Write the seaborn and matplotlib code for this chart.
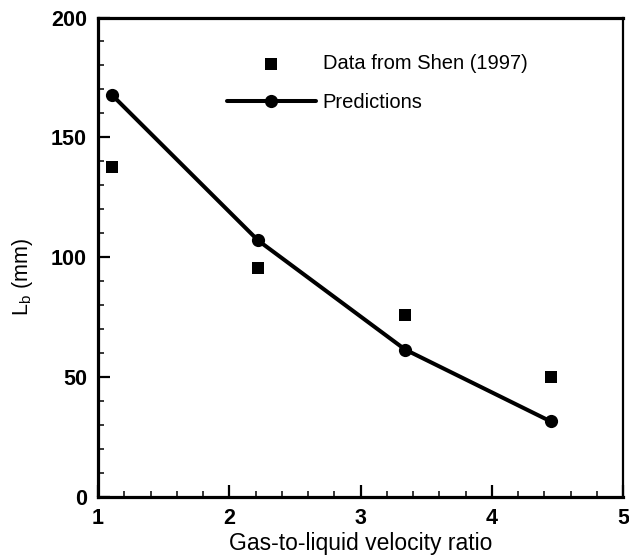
import numpy as np
import pandas as pd
import seaborn as sns
import matplotlib.pyplot as plt
from matplotlib.ticker import MultipleLocator

# donnees
ratio_mesure = [1.11, 2.22, 3.34, 4.45]
lb_mesure = [137.5, 95.5, 76.0, 50.0]
ratio_pred = [1.11, 2.22, 3.34, 4.45]
lb_pred = [167.5, 107.0, 61.5, 31.5]

df_mesure = pd.DataFrame({'ratio': ratio_mesure, 'Lb': lb_mesure})
df_pred = pd.DataFrame({'ratio': ratio_pred, 'Lb': lb_pred})

sns.set_style('ticks')
plt.rcParams['font.family'] = ['Liberation Sans', 'DejaVu Sans']
plt.rcParams['mathtext.fontset'] = 'custom'
plt.rcParams['mathtext.rm'] = 'Liberation Sans'
plt.rcParams['mathtext.it'] = 'Liberation Sans'
plt.rcParams['text.color'] = 'black'
plt.rcParams['axes.labelcolor'] = 'black'

fig = plt.figure(figsize=(6.29, 5.58), dpi=100)
ax = fig.add_axes([98 / 629, 1 - 497 / 558, 525 / 629, 479.5 / 558])

sns.scatterplot(x='ratio', y='Lb', data=df_mesure, marker='s', s=85,
                color='black', edgecolor='black', linewidth=0,
                label='Data from Shen (1997)', ax=ax, zorder=3)
sns.lineplot(x='ratio', y='Lb', data=df_pred, marker='o', markersize=9.5,
             color='black', linewidth=2.9, markeredgewidth=0,
             label='Predictions', ax=ax, zorder=4)

ax.set_xlim(1, 5)
ax.set_ylim(0, 200)
ax.xaxis.set_major_locator(MultipleLocator(1))
ax.xaxis.set_minor_locator(MultipleLocator(0.2))
ax.yaxis.set_major_locator(MultipleLocator(50))
ax.yaxis.set_minor_locator(MultipleLocator(10))
ax.tick_params(which='major', direction='in', length=8.5, width=1.6,
               labelsize=15.5, pad=8, colors='black')
ax.tick_params(which='minor', direction='in', length=4.3, width=1.1,
               colors='black')
for lab in ax.get_xticklabels() + ax.get_yticklabels():
    lab.set_fontweight('bold')

for cote in ['left', 'bottom', 'top']:
    ax.spines[cote].set_linewidth(2.3)
ax.spines['right'].set_linewidth(1.6)
for sp in ax.spines.values():
    sp.set_color('black')

ax.set_xlabel('Gas-to-liquid velocity ratio', fontsize=16.5, labelpad=2,
              color='black')
ax.set_ylabel(r'L$_\mathrm{b}$ (mm)', fontsize=15.5, color='black')
ax.yaxis.set_label_coords(-0.12, 0.459)

leg = ax.legend(loc='upper left', bbox_to_anchor=(227 / 629, 1 - 54 / 558),
                bbox_transform=fig.transFigure, frameon=False, fontsize=14.5,
                handlelength=4.4, handletextpad=0.35, labelspacing=1.0,
                borderpad=0, borderaxespad=0, numpoints=1, labelcolor='black')

plt.savefig('out.png', dpi=100)
